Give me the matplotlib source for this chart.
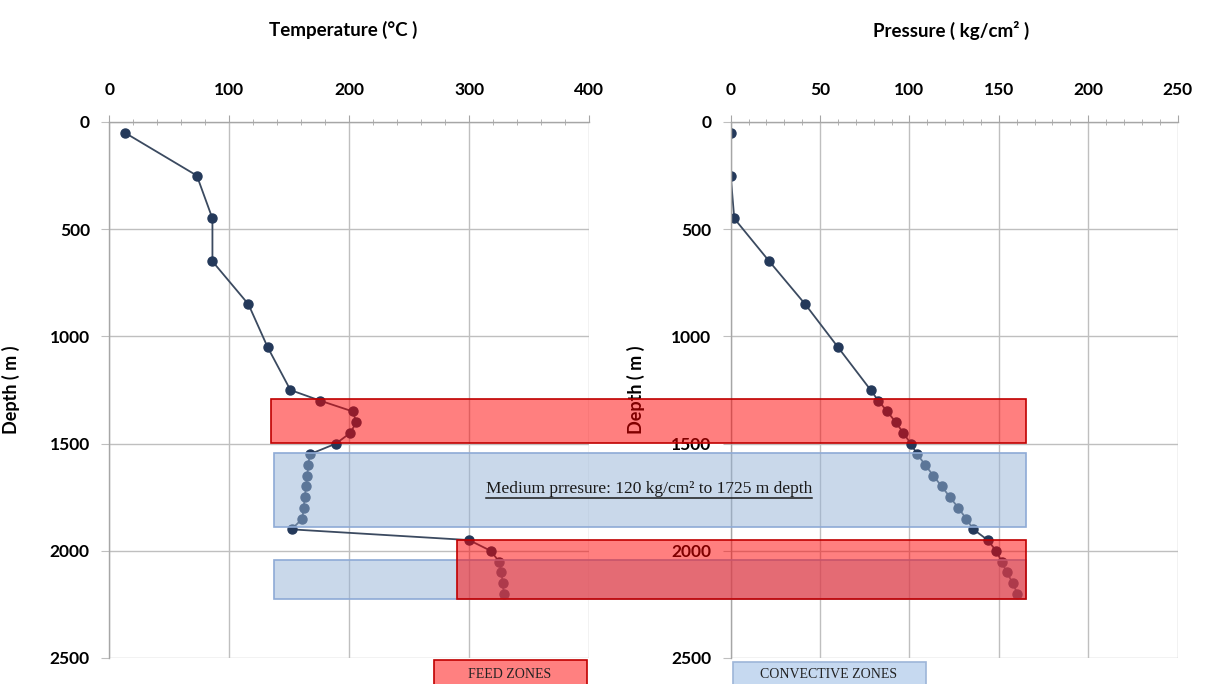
import matplotlib
matplotlib.use("Agg")
import matplotlib.pyplot as plt
from matplotlib.patches import Rectangle
from matplotlib.lines import Line2D
from matplotlib.ticker import MultipleLocator

# Well log: temperature and pressure versus depth
depth = [50, 250, 450, 650, 850, 1050, 1250, 1300, 1350, 1400, 1450, 1500,
         1550, 1600, 1650, 1700, 1750, 1800, 1850, 1900, 1950, 2000, 2050,
         2100, 2150, 2200]
temperature = [13, 73, 86, 86, 116, 132, 151, 176, 203, 206, 201, 189,
               167, 166, 165, 164, 163, 162, 161, 152, 300, 318, 325,
               327, 328, 329]
pressure = [0, 0, 2, 21.6, 41.7, 60, 78.3, 82.6, 87.6, 92.3, 96.6, 100.7,
            104.4, 108.9, 113.4, 118.1, 122.7, 127.4, 131.7, 135.8, 143.8,
            148.5, 151.6, 154.4, 157.8, 160.4]

# zones: (top depth, bottom depth, start temperature); all end at the same pressure
feed_zones = [(1290, 1495, 135), (1950, 2226, 290)]
convective_zones = [(1545, 1888, 137), (2043, 2226, 137)]
zone_end_pressure = 165

plt.rcParams["font.family"] = ["Lato", "DejaVu Sans"]
plt.rcParams["font.weight"] = "bold"

W, H = 1205, 684
fig = plt.figure(figsize=(W / 100, H / 100), dpi=100)

LINE = "#3b4a60"
MARK = "#24395a"
GRID = "#bfbfbf"
RED_FACE = (1.0, 0.0, 0.0, 0.5)
RED_EDGE = "#c00000"
BLUE_FACE = (0.584, 0.702, 0.843, 0.5)
BLUE_EDGE = "#8eaad6"


def setup(ax, xmax, major, minor):
    ax.set_xlim(0, xmax)
    ax.set_ylim(2500, 0)
    ax.xaxis.tick_top()
    ax.xaxis.set_major_locator(MultipleLocator(major))
    ax.xaxis.set_minor_locator(MultipleLocator(minor))
    ax.yaxis.set_major_locator(MultipleLocator(500))
    ax.grid(True, which="major", color=GRID, lw=1.0)
    for s in ["right", "bottom"]:
        ax.spines[s].set_visible(False)
    for s in ["left", "top"]:
        ax.spines[s].set_color("#a6a6a6")
        ax.spines[s].set_linewidth(1.0)
    ax.tick_params(axis="x", which="major", direction="out", length=5,
                   color="#a6a6a6", pad=12, labelsize=12.5)
    ax.tick_params(axis="x", which="minor", direction="inout", length=5,
                   color="#a6a6a6")
    ax.tick_params(axis="y", direction="out", length=6, color=GRID,
                   pad=8, labelsize=12.5)
    ax.set_ylabel("Depth ( m )", fontsize=13, fontweight="bold")


ax1 = fig.add_axes([109.3 / W, 1 - 658 / H, (589 - 109.3) / W, (658 - 122) / H])
ax2 = fig.add_axes([730.7 / W, 1 - 658 / H, (1177.5 - 730.7) / W, (658 - 122) / H])
setup(ax1, 400, 100, 20)
setup(ax2, 250, 50, 10)
ax1.yaxis.set_label_coords(-0.186, 0.5)
ax2.yaxis.set_label_coords(-0.192, 0.5)

ax1.plot(temperature, depth, color=LINE, lw=1.3, marker="o", ms=6.5,
         mfc=MARK, mec=MARK)
ax2.plot(pressure, depth, color=LINE, lw=1.3, marker="o", ms=6.5,
         mfc=MARK, mec=MARK)

fig.text(343 / W, 1 - 30 / H, "Temperature (°C )", ha="center", va="center",
         fontsize=13.5, fontweight="bold")
fig.text(951 / W, 1 - 30 / H, "Pressure ( kg/cm² )", ha="center", va="center",
         fontsize=13.5, fontweight="bold")

# zone bands run from the temperature panel across into the pressure panel
to_fig = fig.transFigure.inverted()


def band(top, bottom, t_start, face, edge):
    x0, y0 = to_fig.transform(ax1.transData.transform((t_start, bottom)))
    x1, y1 = to_fig.transform(ax2.transData.transform((zone_end_pressure, top)))
    fig.add_artist(Rectangle((x0, y0), x1 - x0, y1 - y0, transform=fig.transFigure,
                             facecolor=face, edgecolor=edge, lw=1.2, zorder=5))


for top, bottom, t0 in convective_zones:
    band(top, bottom, t0, BLUE_FACE, BLUE_EDGE)
for top, bottom, t0 in feed_zones:
    band(top, bottom, t0, RED_FACE, RED_EDGE)

note = fig.text(649 / W, 1 - 489 / H, "Medium prresure: 120 kg/cm² to 1725 m depth",
                ha="center", va="center", fontsize=12.5, family="Liberation Serif",
                fontweight="normal", color="#1a1a1a", zorder=6)
fig.canvas.draw()
bb = note.get_window_extent(fig.canvas.get_renderer())
uy = (bb.y0 - 1.0) / H
fig.add_artist(Line2D([bb.x0 / W, bb.x1 / W], [uy, uy], transform=fig.transFigure,
                      color="#1a1a1a", lw=1.1, zorder=6))

# key boxes along the bottom edge
fig.add_artist(Rectangle((434 / W, -0.05), (587 - 434) / W, 0.05 + 1 - 659.5 / H,
                         transform=fig.transFigure, facecolor=(1, 0.5, 0.5),
                         edgecolor=RED_EDGE, lw=1.2, zorder=5))
fig.text(510 / W, 1 - 674 / H, "FEED ZONES", ha="center", va="center",
         fontsize=10, family="Liberation Serif", fontweight="normal",
         color="#222222", zorder=6)
fig.add_artist(Rectangle((733 / W, -0.05), (926 - 733) / W, 0.05 + 1 - 661.5 / H,
                         transform=fig.transFigure, facecolor="#c6d9f0",
                         edgecolor="#9db5d8", lw=1.2, zorder=5))
fig.text(829 / W, 1 - 675 / H, "CONVECTIVE ZONES", ha="center", va="center",
         fontsize=10, family="Liberation Serif", fontweight="normal",
         color="#222222", zorder=6)

fig.savefig("out.png", dpi=100)
